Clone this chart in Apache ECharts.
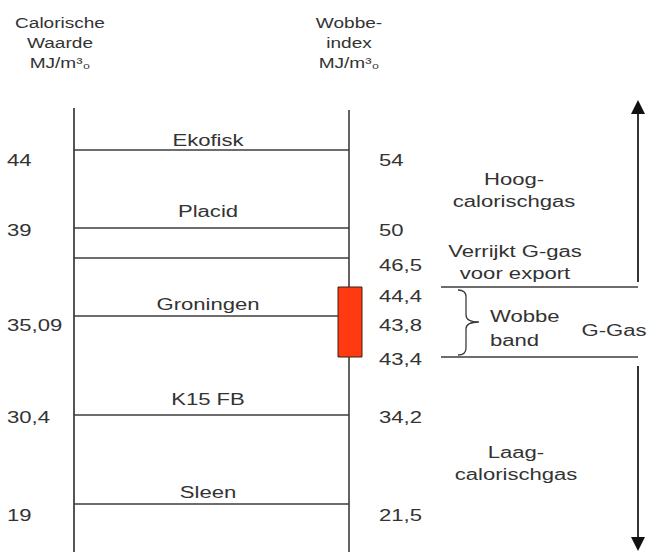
<!DOCTYPE html>
<html>
<head>
<meta charset="utf-8">
<script src="https://cdn.jsdelivr.net/npm/echarts@6/dist/echarts.min.js"></script>
<style>
  html, body { margin: 0; padding: 0; background: #fff; }
  #myChart { width: 649px; height: 552px; }
</style>
</head>
<body>
<div id="myChart"></div>
<script type="text/javascript">

  // gas sources, top to bottom ('' = unnamed line)
  var gasNames = ['Ekofisk', 'Placid', '', 'Groningen', 'K15 FB', 'Sleen'];
  var calorischeWaarde = ['44', '39', '', '35,09', '30,4', '19'];
  var wobbeIndex = ['54', '50', '46,5', '43,8', '34,2', '21,5'];
  // wobbe band for G-gas (upper, lower)
  var wobbeBand = ['44,4', '43,4'];
  var headers = ['Calorische\nWaarde\nMJ/m³₀', 'Wobbe-\nindex\nMJ/m³₀'];
  var zones = ['Hoog-\ncalorischgas', 'Verrijkt G-gas\nvoor export', 'Wobbe\nband', 'G-Gas', 'Laag-\ncalorischgas'];

  // layout of the schematic, in diagram units
  var colX = [74, 349];
  var rowY = [150, 228, 258, 316, 415, 504];
  var nameY = [141, 212, 0, 305, 400, 493];
  var valueY = [161, 231, 266, 326, 418, 516];
  var bandY = [287, 357];
  var bandLabelY = [297, 360];
  var grIdx = 3;

  var textColor = '#333';
  var lineColor = '#3c3c3c';
  var mainFont = '16px "Liberation Sans", Arial, sans-serif';
  var headFont = '14px "Liberation Sans", Arial, sans-serif';

  var chartDom = document.getElementById('myChart');
  var myChart = echarts.init(chartDom, null, { renderer: 'svg' });

  function txt(p, s, opt) {
    opt = opt || {};
    return {
      type: 'text',
      x: p[0],
      y: p[1],
      scaleX: opt.sx || 1.38,
      style: {
        text: s,
        fill: textColor,
        font: opt.font || mainFont,
        align: opt.align || 'center',
        verticalAlign: 'middle',
        lineHeight: opt.lh || 22
      }
    };
  }

  function seg(a, b, w, c) {
    return {
      type: 'line',
      shape: { x1: a[0], y1: a[1], x2: b[0], y2: b[1] },
      style: { stroke: c || lineColor, lineWidth: w || 1.6 }
    };
  }

  function renderRow(params, api) {
    var i = params.dataIndex;
    var y = api.value(0);
    var endX = i === grIdx ? 338 : colX[1];
    var children = [seg(api.coord([colX[0], y]), api.coord([endX, y]))];
    if (gasNames[i]) {
      children.push(txt(api.coord([208, api.value(1)]), gasNames[i]));
    }
    if (calorischeWaarde[i]) {
      children.push(txt(api.coord([7, api.value(2)]), calorischeWaarde[i], { align: 'left' }));
    }
    children.push(txt(api.coord([379, api.value(2)]), wobbeIndex[i], { align: 'left' }));
    return { type: 'group', children: children };
  }

  function renderFrame(params, api) {
    var c = function (x, y) { return api.coord([x, y]); };
    var children = [];
    // two columns
    children.push(seg(c(colX[0], 108), c(colX[0], 552), 2, '#555'));
    children.push(seg(c(colX[1], 110), c(colX[1], 552), 1.6));
    // headers
    children.push(txt(c(60, 43), headers[0], { font: headFont, lh: 20, sx: 1.36 }));
    children.push(txt(c(349, 43), headers[1], { font: headFont, lh: 20, sx: 1.36 }));
    // wobbe band box
    var tl = c(338, bandY[0]);
    var br = c(362, bandY[1]);
    children.push({
      type: 'rect',
      shape: { x: tl[0], y: tl[1], width: br[0] - tl[0], height: br[1] - tl[1] },
      style: { fill: '#ff3a10', stroke: '#3a2015', lineWidth: 1 }
    });
    children.push(txt(c(379, bandLabelY[0]), wobbeBand[0], { align: 'left' }));
    children.push(txt(c(379, bandLabelY[1]), wobbeBand[1], { align: 'left' }));
    // band lines on the right
    children.push(seg(c(441, bandY[0]), c(638, bandY[0])));
    children.push(seg(c(441, bandY[1]), c(638, bandY[1])));
    // brace
    var p = [c(458, 290), c(466, 297), c(466, 315), c(479, 322), c(466, 329), c(466, 348), c(458, 355)];
    children.push({
      type: 'path',
      shape: {
        pathData: 'M' + p[0] + 'Q' + p[1][0] + ',' + p[0][1] + ' ' + p[1] +
          'L' + p[2] + 'Q' + p[2][0] + ',' + p[3][1] + ' ' + p[3] +
          'Q' + p[4][0] + ',' + p[3][1] + ' ' + p[4] +
          'L' + p[5] + 'Q' + p[5][0] + ',' + p[6][1] + ' ' + p[6]
      },
      style: { stroke: lineColor, lineWidth: 1.3, fill: 'none' }
    });
    // zone labels
    children.push(txt(c(514, 191), zones[0]));
    children.push(txt(c(515, 263), zones[1]));
    children.push(txt(c(490, 329), zones[2], { align: 'left', lh: 24 }));
    children.push(txt(c(614, 331), zones[3]));
    children.push(txt(c(516, 464), zones[4]));
    // arrows
    children.push(seg(c(638, 282), c(638, 112), 2, '#333'));
    children.push({
      type: 'polygon',
      shape: { points: [c(638, 100), c(631, 114), c(645, 114)] },
      style: { fill: '#111' }
    });
    children.push(seg(c(638, 366), c(638, 540), 2, '#333'));
    children.push({
      type: 'polygon',
      shape: { points: [c(638, 551), c(631, 537), c(645, 537)] },
      style: { fill: '#111' }
    });
    return { type: 'group', children: children };
  }

  var option = {
    backgroundColor: '#fff',
    animation: false,
    grid: { left: 0, right: 0, top: 0, bottom: 0 },
    xAxis: { type: 'value', min: 0, max: 649, show: false },
    yAxis: { type: 'value', min: 0, max: 552, inverse: true, show: false },
    series: [
      {
        type: 'custom',
        silent: true,
        renderItem: renderFrame,
        data: [[0]]
      },
      {
        type: 'custom',
        silent: true,
        renderItem: renderRow,
        data: gasNames.map(function (n, i) { return [rowY[i], nameY[i], valueY[i]]; })
      }
    ]
  };

  option && myChart.setOption(option);
</script>
</body>
</html>
